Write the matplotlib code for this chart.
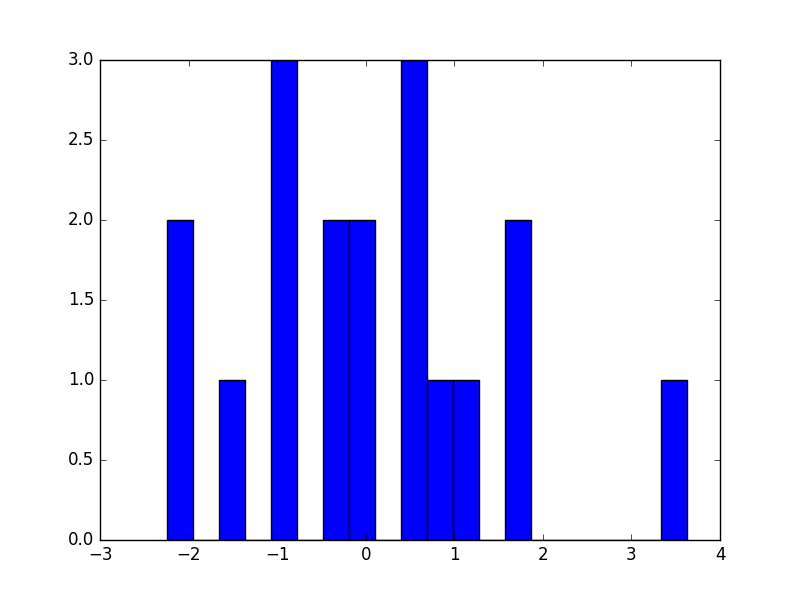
import numpy as np
import matplotlib
matplotlib.use('Agg')
import matplotlib.pyplot as plt

plt.style.use('classic')

# histogram: 20 equal bins
binLow = -2.247
binHigh = 3.622
counts = [2, 0, 1, 0, 3, 0, 2, 2, 0, 3, 1, 1, 0, 2, 0, 0, 0, 0, 0, 1]

edges = np.linspace(binLow, binHigh, len(counts) + 1)
centers = (edges[:-1] + edges[1:]) / 2

fig = plt.figure(figsize=(8, 6), dpi=100)
ax = fig.add_subplot(1, 1, 1)
ax.hist(centers, bins=edges, weights=counts, color='b', edgecolor='k')
ax.set_xlim(-3, 4)
ax.set_ylim(0, 3)

fig.savefig('out.png', dpi=100)
